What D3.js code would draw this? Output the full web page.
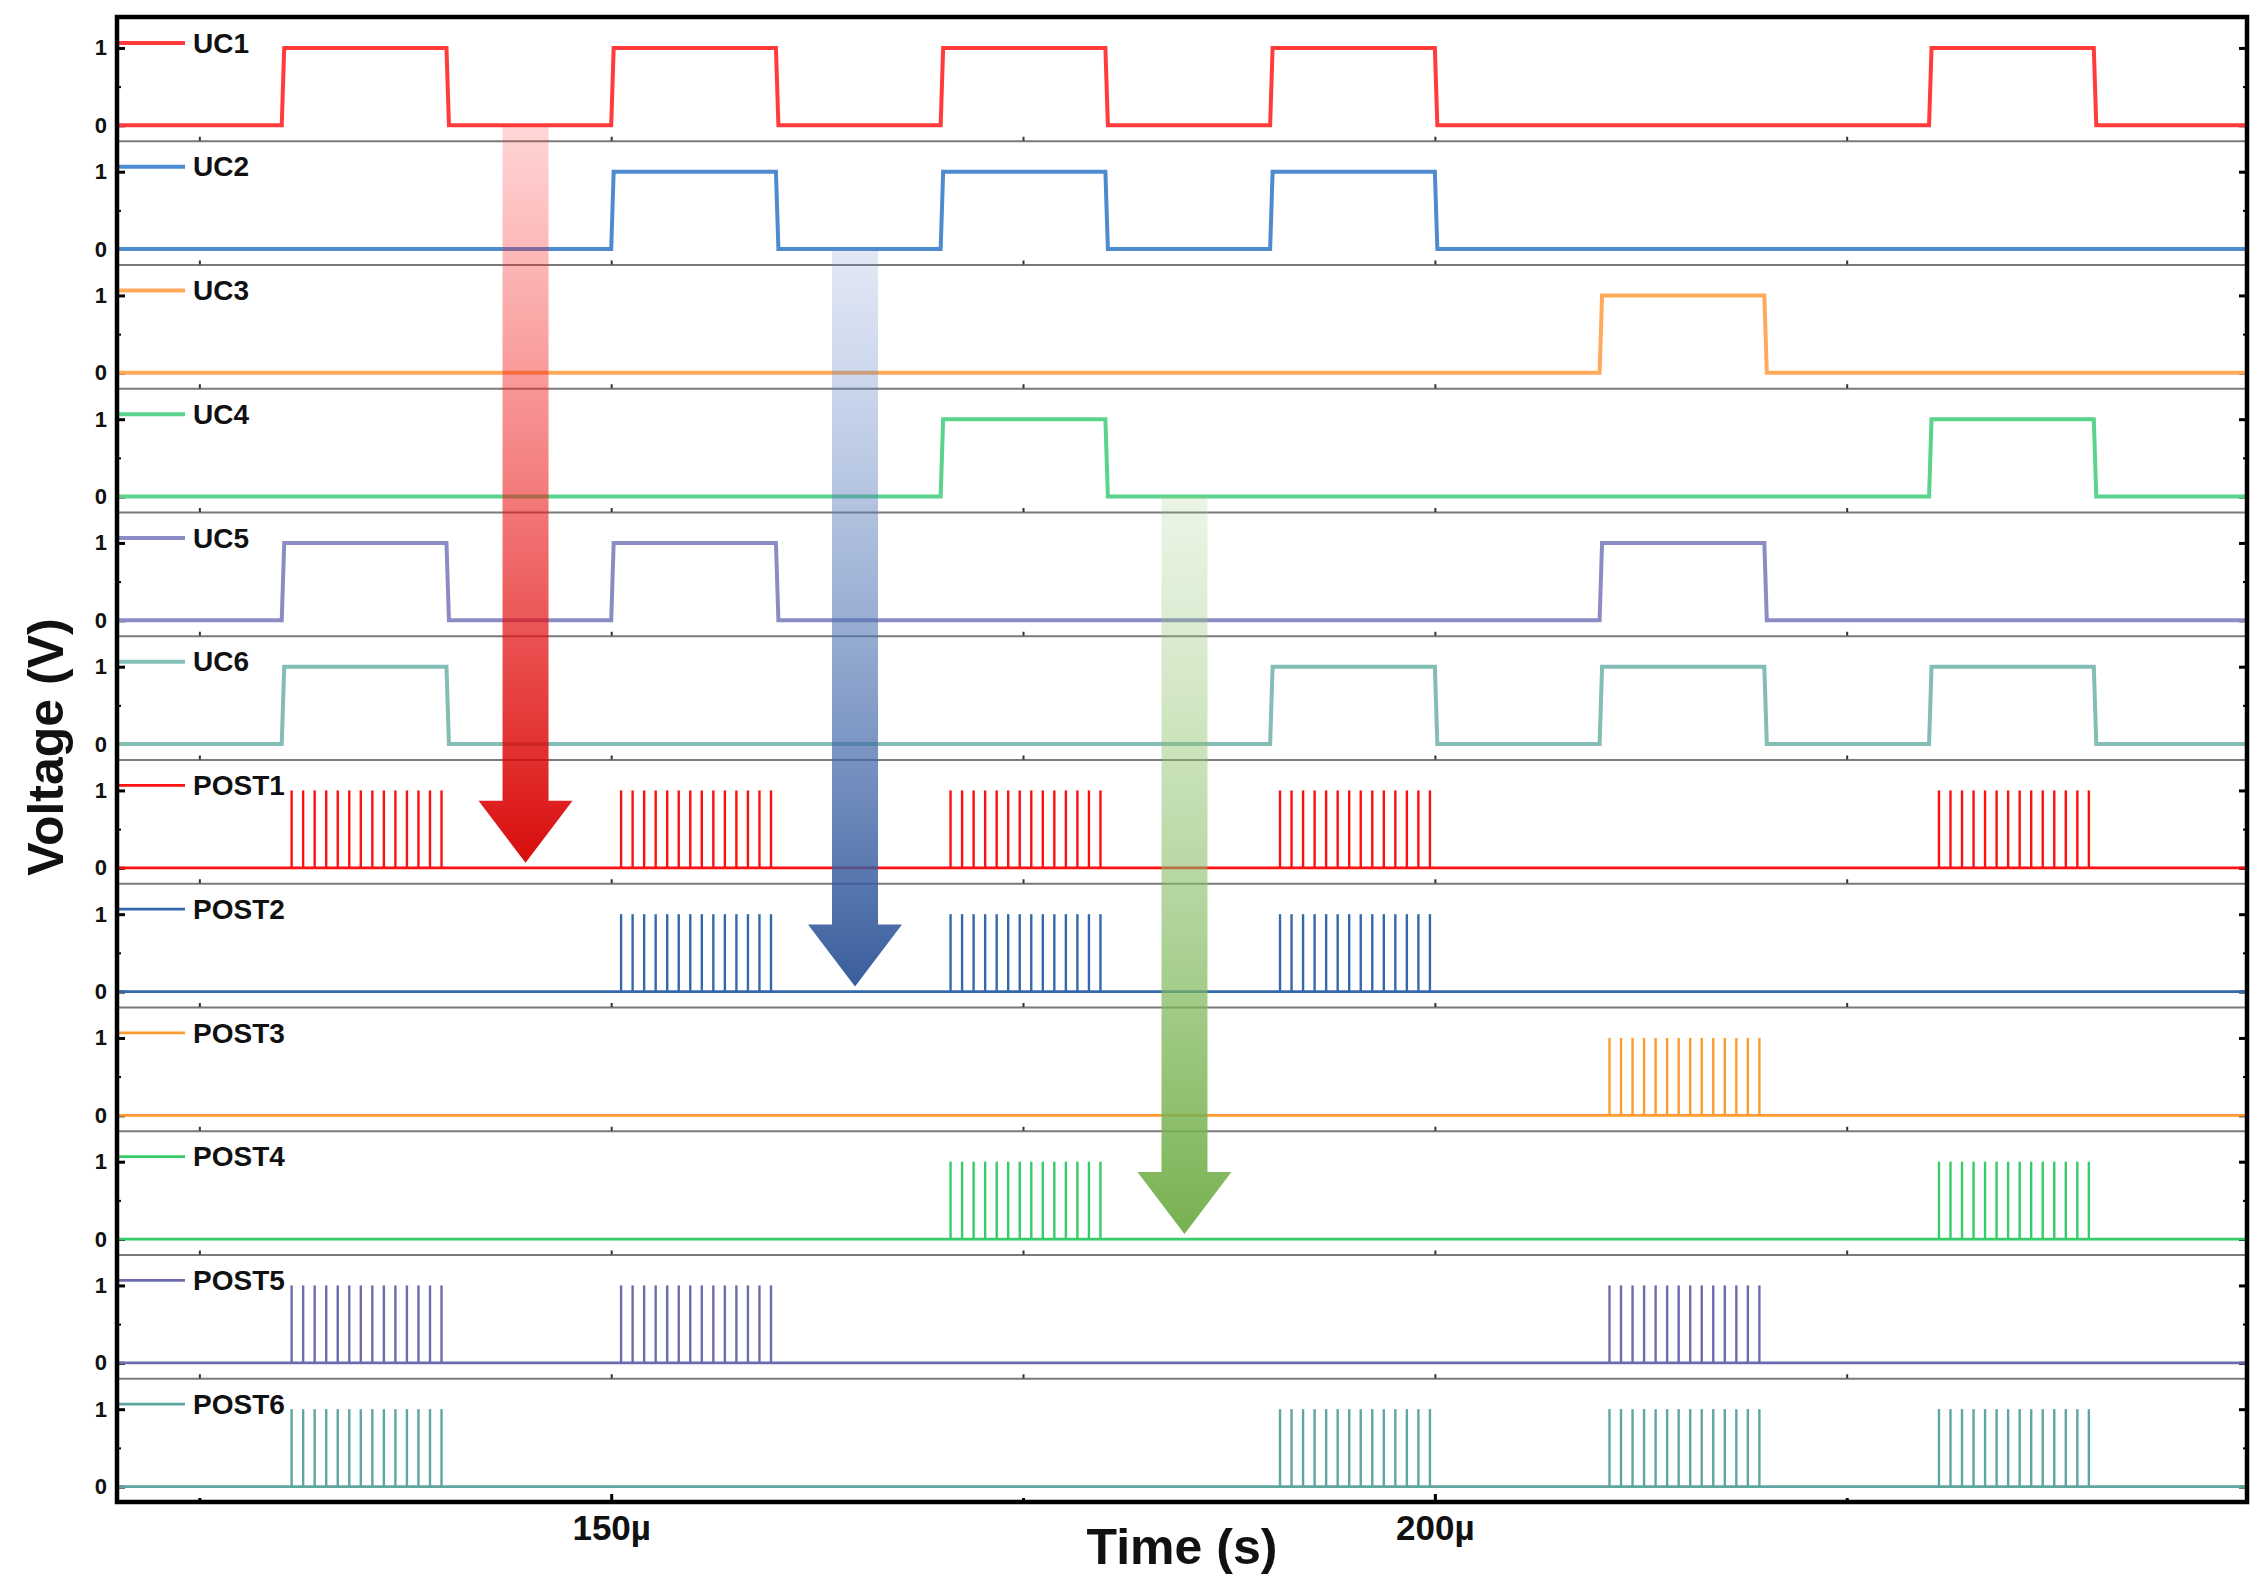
<!DOCTYPE html>
<html>
<head>
<meta charset="utf-8">
<script src="https://cdn.jsdelivr.net/npm/d3@7"></script>
<style>
  body { margin: 0; background: #fff; }
  text { font-family: Arial, "Liberation Sans", sans-serif; font-weight: bold; }
</style>
</head>
<body>
<div id="chart"></div>
<script>
// channel names, top to bottom
var channels = ["UC1", "UC2", "UC3", "UC4", "UC5", "UC6",
                "POST1", "POST2", "POST3", "POST4", "POST5", "POST6"];

var channelColors = ["#ff3b3b", "#4d8ad0", "#ffaa5a", "#5ad48c", "#8c8cc4", "#84bcb6",
                     "#ff1010", "#3468ad", "#ff9a30", "#36cc6a", "#6b6bb0", "#5ea6a0"];

// start times (µs) of the 10 µs input pulses
var uc1Pulses = [130, 150, 170, 190, 230];
var uc2Pulses = [150, 170, 190];
var uc3Pulses = [210];
var uc4Pulses = [170, 230];
var uc5Pulses = [130, 150, 210];
var uc6Pulses = [130, 190, 210, 230];

// start times (µs) of the output spike bursts
var post1Bursts = [130, 150, 170, 190, 230];
var post2Bursts = [150, 170, 190];
var post3Bursts = [210];
var post4Bursts = [170, 230];
var post5Bursts = [130, 150, 210];
var post6Bursts = [130, 190, 210, 230];

// spike times inside one burst, µs after the burst start
var spikeOffsets = [0.6, 1.3, 2.0, 2.7, 3.4, 4.1, 4.8, 5.5, 6.2, 6.9, 7.6, 8.3, 9.0, 9.7];

var pulseWidth = 10;
var edgeTime = 0.15;

// arrows: from UC panel to POST panel at time t (µs)
var arrowFrom = ["UC1", "UC2", "UC4"];
var arrowTo = ["POST1", "POST2", "POST4"];
var arrowTimes = [144.8, 164.8, 184.8];

var xTicks = [125, 150, 175, 200, 225];
var xTickLabels = {150: "150µ", 200: "200µ"};
var yTicks = [0, 0.5, 1];

var pulses = [uc1Pulses, uc2Pulses, uc3Pulses, uc4Pulses, uc5Pulses, uc6Pulses];
var bursts = [post1Bursts, post2Bursts, post3Bursts, post4Bursts, post5Bursts, post6Bursts];

var svgWidth = 2263;
var svgHeight = 1590;

var margin = {
    top: 17,
    right: 16,
    bottom: 88,
    left: 117
};

var chartWidth = svgWidth - margin.left - margin.right;
var chartHeight = svgHeight - margin.top - margin.bottom;

var svg = d3.select("#chart")
    .append("svg")
    .attr("width", svgWidth)
    .attr("height", svgHeight);

var chartGroup = svg.append("g")
    .attr("transform", `translate(${margin.left}, ${margin.top})`);

var xScale = d3.scaleLinear()
    .domain([120, 249.3])
    .range([0, chartWidth]);

var panelScale = d3.scaleBand()
    .domain(channels)
    .range([0, chartHeight])
    .padding(0);

var panelH = panelScale.bandwidth();

function panelY(name) {
    var top = panelScale(name);
    return d3.scaleLinear()
        .domain([-0.2, 1.4])
        .range([top + panelH, top]);
}

var line = d3.line();

// ---- panels: dividers, ticks, labels
channels.forEach((name, i) => {
    var y = panelY(name);
    var g = chartGroup.append("g").attr("class", "panel");

    // divider / bottom axis of each panel
    if (i < channels.length - 1) {
        var div = g.append("g")
            .attr("transform", `translate(0, ${panelScale(name) + panelH})`)
            .call(d3.axisBottom(xScale).tickValues(xTicks).tickSizeInner(-4).tickSizeOuter(0).tickFormat(""));
        div.select(".domain").attr("stroke", "#7a7a7a").attr("stroke-width", 2);
        div.selectAll(".tick line").attr("stroke", "#333").attr("stroke-width", 2);
    }

    var left = g.append("g")
        .call(d3.axisLeft(y).tickValues(yTicks).tickSize(-8).tickPadding(10)
            .tickFormat(d => d == 0.5 ? "" : d));
    left.select(".domain").remove();
    left.selectAll(".tick line").attr("stroke", "#000").attr("stroke-width", 3)
        .filter(d => d == 0.5).attr("x2", 4).attr("stroke-width", 2);
    left.selectAll(".tick text")
        .style("font-size", "22px")
        .attr("fill", "#111");

    var right = g.append("g")
        .attr("transform", `translate(${chartWidth}, 0)`)
        .call(d3.axisRight(y).tickValues(yTicks).tickSize(-8).tickFormat(""));
    right.select(".domain").remove();
    right.selectAll(".tick line").attr("stroke", "#000").attr("stroke-width", 3)
        .filter(d => d == 0.5).attr("x2", -4).attr("stroke-width", 2);
});

// ---- signals
channels.forEach((name, i) => {
    var y = panelY(name);
    var color = channelColors[i];
    var isUC = i < 6;
    var g = chartGroup.append("g");

    if (isUC) {
        var pts = [[120, 0]];
        pulses[i].forEach(p => {
            pts.push([p, 0], [p + edgeTime, 1], [p + pulseWidth, 1], [p + pulseWidth + edgeTime, 0]);
        });
        pts.push([249.3, 0]);
        g.append("path")
            .attr("d", line(pts.map(d => [xScale(d[0]), y(d[1])])))
            .attr("fill", "none")
            .attr("stroke", color)
            .attr("stroke-width", 4)
            .attr("stroke-linejoin", "miter");
    } else {
        g.append("path")
            .attr("d", line([[xScale(120), y(0)], [xScale(249.3), y(0)]]))
            .attr("fill", "none")
            .attr("stroke", color)
            .attr("stroke-width", 2.8);

        var spikes = [];
        bursts[i - 6].forEach(b => spikeOffsets.forEach(o => spikes.push(b + o)));
        g.selectAll("line.spike")
            .data(spikes)
            .enter()
            .append("line")
            .attr("class", "spike")
            .attr("x1", d => xScale(d))
            .attr("x2", d => xScale(d))
            .attr("y1", y(0))
            .attr("y2", y(1))
            .attr("stroke", color)
            .attr("stroke-width", 2.4);
    }

    // legend stub + name
    var ly = y(1) - 5;
    g.append("line")
        .attr("x1", 1).attr("x2", 68)
        .attr("y1", ly).attr("y2", ly)
        .attr("stroke", color)
        .attr("stroke-width", isUC ? 4 : 2.8);
    g.append("text")
        .attr("x", 76)
        .attr("y", ly)
        .attr("dy", "0.35em")
        .style("font-size", "28px")
        .attr("fill", "#111")
        .text(name);
});

// ---- gradient arrows
var defs = svg.append("defs");
var arrowGrads = [
    {id: "gradRed", top: "#ff3030", bottom: "#d60000"},
    {id: "gradBlue", top: "#6f90cf", bottom: "#2f5597"},
    {id: "gradGreen", top: "#9ccb7f", bottom: "#70ad47"}
];
arrowGrads.forEach(d => {
    var lg = defs.append("linearGradient")
        .attr("id", d.id)
        .attr("x1", 0).attr("y1", 0).attr("x2", 0).attr("y2", 1);
    lg.append("stop").attr("offset", "0%").attr("stop-color", d.top).attr("stop-opacity", 0.2);
    lg.append("stop").attr("offset", "100%").attr("stop-color", d.bottom).attr("stop-opacity", 0.95);
});

var shaftHalf = 23;
var headHalf = 47;
var headLen = 62;

arrowTimes.forEach((t, i) => {
    var cx = xScale(t);
    var yTop = panelY(arrowFrom[i])(0);
    var yTip = panelY(arrowTo[i])(0) - 5;
    var yHead = yTip - headLen;
    var pts = [
        [cx - shaftHalf, yTop], [cx + shaftHalf, yTop], [cx + shaftHalf, yHead],
        [cx + headHalf, yHead], [cx, yTip], [cx - headHalf, yHead], [cx - shaftHalf, yHead]
    ];
    chartGroup.append("path")
        .attr("d", line(pts) + "Z")
        .attr("fill", `url(#${arrowGrads[i].id})`);
});

// ---- frame and bottom axis
chartGroup.append("rect")
    .attr("width", chartWidth)
    .attr("height", chartHeight)
    .attr("fill", "none")
    .attr("stroke", "#000")
    .attr("stroke-width", 4.5);

var bottomAxis = chartGroup.append("g")
    .attr("transform", `translate(0, ${chartHeight})`)
    .call(d3.axisBottom(xScale).tickValues(xTicks).tickSize(-8).tickPadding(13)
        .tickFormat(d => xTickLabels[d] || ""));
bottomAxis.select(".domain").remove();
bottomAxis.selectAll(".tick line").attr("stroke", "#000").attr("stroke-width", 3)
    .filter(d => !xTickLabels[d]).attr("y2", -4);
bottomAxis.selectAll(".tick text")
    .style("font-size", "35px")
    .attr("fill", "#111");

// axis titles
chartGroup.append("text")
    .attr("x", chartWidth / 2)
    .attr("y", chartHeight + 62)
    .attr("text-anchor", "middle")
    .style("font-size", "50px")
    .attr("fill", "#111")
    .text("Time (s)");

svg.append("text")
    .attr("transform", "translate(63, 747) rotate(-90)")
    .attr("text-anchor", "middle")
    .style("font-size", "50px")
    .attr("fill", "#111")
    .text("Voltage (V)");
</script>
</body>
</html>
